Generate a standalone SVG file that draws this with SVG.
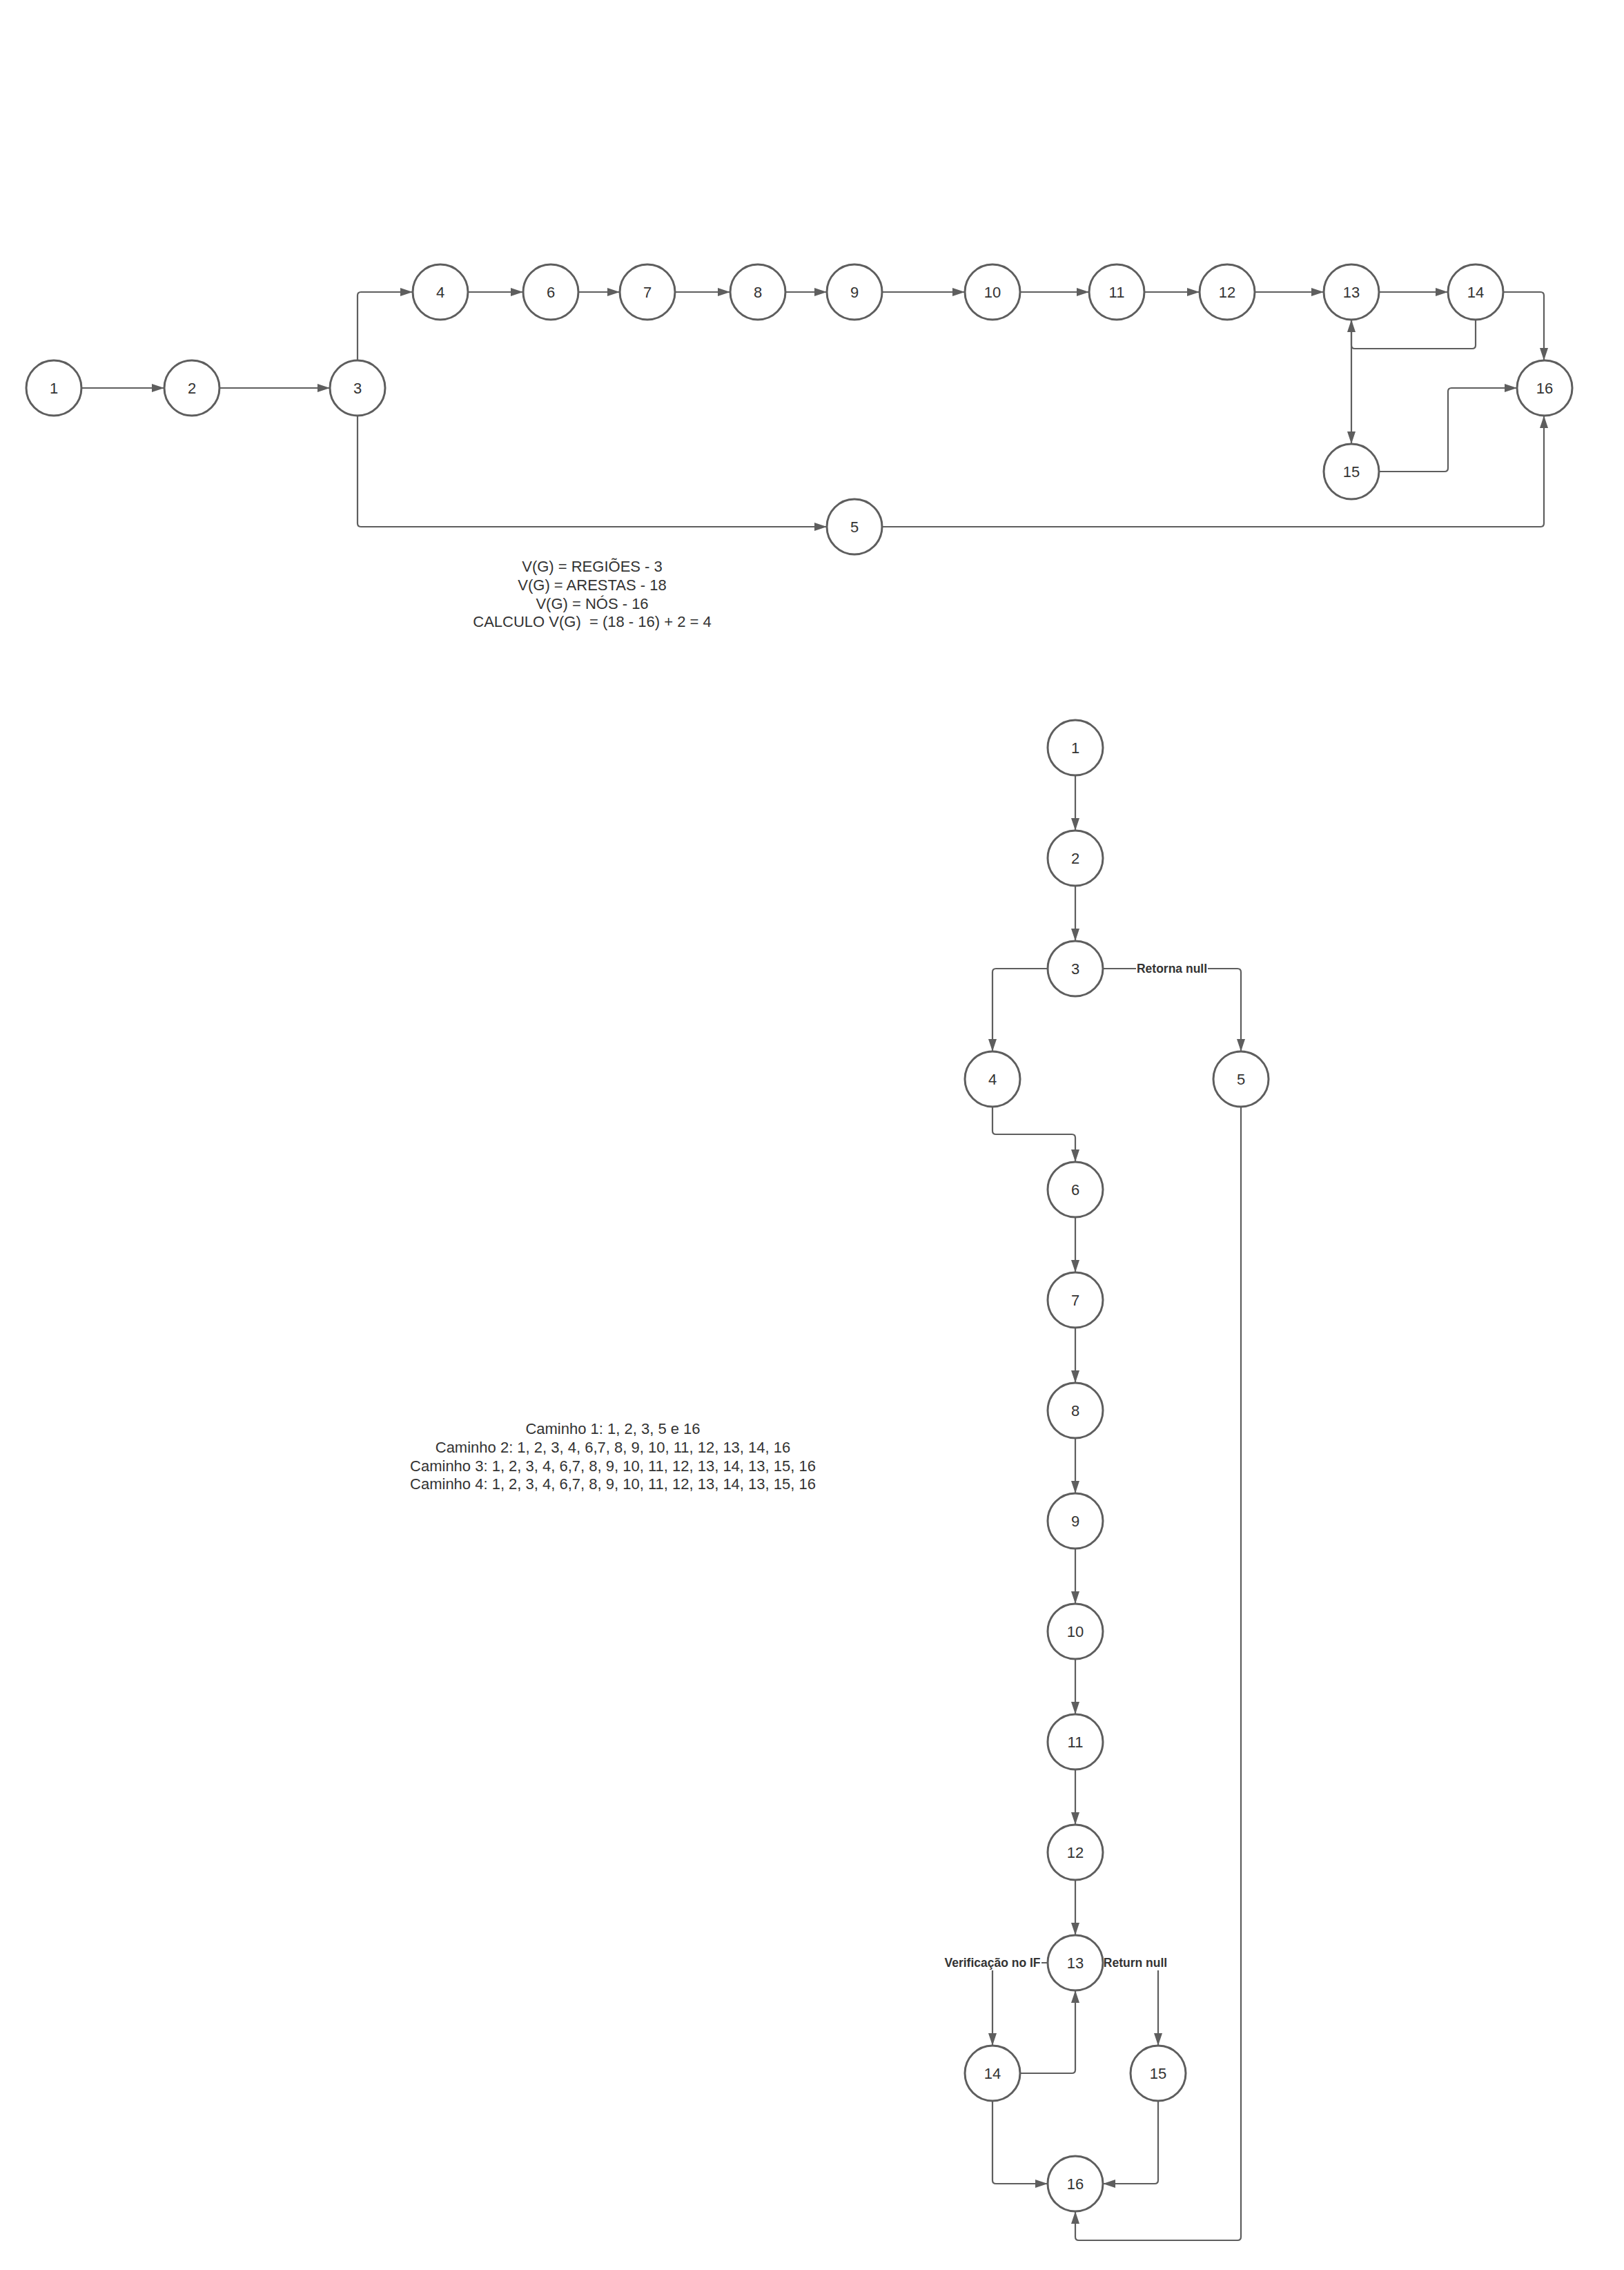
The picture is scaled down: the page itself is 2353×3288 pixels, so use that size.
<svg xmlns="http://www.w3.org/2000/svg" width="2353" height="3288" viewBox="0 0 2353 3288">
  <style>
    .node circle { fill: #ffffff; stroke: #5e5e5e; stroke-width: 3; }
    .node text { font-family: "Liberation Sans", Arial, sans-serif; font-size: 22px; fill: #333333; text-anchor: middle; }
    .edge { fill: none; stroke: #5e5e5e; stroke-width: 2.2; marker-end: url(#arrow); }
    .plain { fill: none; stroke: #5e5e5e; stroke-width: 2.2; }
    .lbl-bg { fill: #ffffff; }
    .lbl { font-family: "Liberation Sans", Arial, sans-serif; font-size: 17.5px; font-weight: bold; fill: #333333; text-anchor: middle; }
    .note { font-family: "Liberation Sans", Arial, sans-serif; font-size: 22px; fill: #333333; text-anchor: middle; white-space: pre; }
  </style>
  <defs>
    <marker id="arrow" markerUnits="userSpaceOnUse" markerWidth="20" markerHeight="14" refX="18" refY="6" orient="auto">
      <path d="M0,0 L18,6 L0,12 Z" fill="#5e5e5e"/>
    </marker>
  </defs>
  <rect width="2353" height="3288" fill="#ffffff"/>

  <!-- Upper graph: connectors -->
  <g id="top-connectors">
    <path class="edge" d="M118,562 H238"/>
    <path class="edge" d="M318,562 H478"/>
    <path class="edge" d="M518,522 V428 Q518,423 523,423 H598"/>
    <path class="edge" d="M678,423 H758"/>
    <path class="edge" d="M838,423 H898"/>
    <path class="edge" d="M978,423 H1058"/>
    <path class="edge" d="M1138,423 H1198"/>
    <path class="edge" d="M1278,423 H1398"/>
    <path class="edge" d="M1478,423 H1578"/>
    <path class="edge" d="M1658,423 H1738"/>
    <path class="edge" d="M1818,423 H1918"/>
    <path class="edge" d="M1998,423 H2098"/>
    <path class="edge" d="M2178,423 H2232 Q2237,423 2237,428 V522"/>
    <path class="edge" d="M2138,463 V500 Q2138,505 2133,505 H1963 Q1958,505 1958,500 V463"/>
    <path class="edge" d="M1958,463 V643"/>
    <path class="edge" d="M1998,683 H2093 Q2098,683 2098,678 V567 Q2098,562 2103,562 H2198"/>
    <path class="edge" d="M1278,763 H2232 Q2237,763 2237,758 V602"/>
    <path class="edge" d="M518,602 V758 Q518,763 523,763 H1198"/>
  </g>

  <!-- Upper graph: nodes -->
  <g id="t1" class="node"><circle cx="78" cy="562" r="40"/><text x="78" y="570">1</text></g>
  <g id="t2" class="node"><circle cx="278" cy="562" r="40"/><text x="278" y="570">2</text></g>
  <g id="t3" class="node"><circle cx="518" cy="562" r="40"/><text x="518" y="570">3</text></g>
  <g id="t4" class="node"><circle cx="638" cy="423" r="40"/><text x="638" y="431">4</text></g>
  <g id="t6" class="node"><circle cx="798" cy="423" r="40"/><text x="798" y="431">6</text></g>
  <g id="t7" class="node"><circle cx="938" cy="423" r="40"/><text x="938" y="431">7</text></g>
  <g id="t8" class="node"><circle cx="1098" cy="423" r="40"/><text x="1098" y="431">8</text></g>
  <g id="t9" class="node"><circle cx="1238" cy="423" r="40"/><text x="1238" y="431">9</text></g>
  <g id="t10" class="node"><circle cx="1438" cy="423" r="40"/><text x="1438" y="431">10</text></g>
  <g id="t11" class="node"><circle cx="1618" cy="423" r="40"/><text x="1618" y="431">11</text></g>
  <g id="t12" class="node"><circle cx="1778" cy="423" r="40"/><text x="1778" y="431">12</text></g>
  <g id="t13" class="node"><circle cx="1958" cy="423" r="40"/><text x="1958" y="431">13</text></g>
  <g id="t14" class="node"><circle cx="2138" cy="423" r="40"/><text x="2138" y="431">14</text></g>
  <g id="t16" class="node"><circle cx="2238" cy="562" r="40"/><text x="2238" y="570">16</text></g>
  <g id="t15" class="node"><circle cx="1958" cy="683" r="40"/><text x="1958" y="691">15</text></g>
  <g id="t5" class="node"><circle cx="1238" cy="763" r="40"/><text x="1238" y="771">5</text></g>

  <!-- Complexity notes -->
  <g id="complexity">
    <text class="note" x="858" y="828">V(G) = REGIÕES - 3</text>
    <text class="note" x="858" y="855">V(G) = ARESTAS - 18</text>
    <text class="note" x="858" y="882">V(G) = NÓS - 16</text>
    <text class="note" x="858" y="908">CALCULO V(G)  = (18 - 16) + 2 = 4</text>
  </g>

  <!-- Independent paths -->
  <g id="paths">
    <text class="note" x="888" y="2077">Caminho 1: 1, 2, 3, 5 e 16</text>
    <text class="note" x="888" y="2104">Caminho 2: 1, 2, 3, 4, 6,7, 8, 9, 10, 11, 12, 13, 14, 16</text>
    <text class="note" x="888" y="2131">Caminho 3: 1, 2, 3, 4, 6,7, 8, 9, 10, 11, 12, 13, 14, 13, 15, 16</text>
    <text class="note" x="888" y="2157">Caminho 4: 1, 2, 3, 4, 6,7, 8, 9, 10, 11, 12, 13, 14, 13, 15, 16</text>
  </g>

  <!-- Lower graph: connectors -->
  <g id="bottom-connectors">
    <path class="edge" d="M1558,1123 V1203"/>
    <path class="edge" d="M1558,1283 V1363"/>
    <path class="edge" d="M1518,1403 H1443 Q1438,1403 1438,1408 V1523"/>
    <path class="edge" d="M1598,1403 H1793 Q1798,1403 1798,1408 V1523"/>
    <path class="edge" d="M1438,1603 V1638 Q1438,1643 1443,1643 H1553 Q1558,1643 1558,1648 V1683"/>
    <path class="edge" d="M1558,1763 V1843"/>
    <path class="edge" d="M1558,1923 V2003"/>
    <path class="edge" d="M1558,2083 V2163"/>
    <path class="edge" d="M1558,2243 V2323"/>
    <path class="edge" d="M1558,2403 V2483"/>
    <path class="edge" d="M1558,2563 V2643"/>
    <path class="edge" d="M1558,2723 V2803"/>
    <path class="edge" d="M1518,2843 H1443 Q1438,2843 1438,2848 V2963"/>
    <path class="edge" d="M1598,2843 H1673 Q1678,2843 1678,2848 V2963"/>
    <path class="edge" d="M1478,3003 H1553 Q1558,3003 1558,2998 V2883"/>
    <path class="edge" d="M1438,3043 V3158 Q1438,3163 1443,3163 H1518"/>
    <path class="edge" d="M1678,3043 V3158 Q1678,3163 1673,3163 H1598"/>
    <path class="edge" d="M1798,1603 V3240 Q1798,3245 1793,3245 H1563 Q1558,3245 1558,3240 V3203"/>
    <!-- edge labels -->
    <rect class="lbl-bg" x="1646" y="1392" width="104" height="22"/>
    <text class="lbl" x="1698" y="1409">Retorna null</text>
    <rect class="lbl-bg" x="1367" y="2832" width="142" height="22"/>
    <text class="lbl" x="1438" y="2849">Verificação no IF</text>
    <rect class="lbl-bg" x="1598" y="2832" width="95" height="22"/>
    <text class="lbl" x="1645" y="2849">Return null</text>
  </g>

  <!-- Lower graph: nodes -->
  <g id="b1" class="node"><circle cx="1558" cy="1083" r="40"/><text x="1558" y="1091">1</text></g>
  <g id="b2" class="node"><circle cx="1558" cy="1243" r="40"/><text x="1558" y="1251">2</text></g>
  <g id="b3" class="node"><circle cx="1558" cy="1403" r="40"/><text x="1558" y="1411">3</text></g>
  <g id="b4" class="node"><circle cx="1438" cy="1563" r="40"/><text x="1438" y="1571">4</text></g>
  <g id="b5" class="node"><circle cx="1798" cy="1563" r="40"/><text x="1798" y="1571">5</text></g>
  <g id="b6" class="node"><circle cx="1558" cy="1723" r="40"/><text x="1558" y="1731">6</text></g>
  <g id="b7" class="node"><circle cx="1558" cy="1883" r="40"/><text x="1558" y="1891">7</text></g>
  <g id="b8" class="node"><circle cx="1558" cy="2043" r="40"/><text x="1558" y="2051">8</text></g>
  <g id="b9" class="node"><circle cx="1558" cy="2203" r="40"/><text x="1558" y="2211">9</text></g>
  <g id="b10" class="node"><circle cx="1558" cy="2363" r="40"/><text x="1558" y="2371">10</text></g>
  <g id="b11" class="node"><circle cx="1558" cy="2523" r="40"/><text x="1558" y="2531">11</text></g>
  <g id="b12" class="node"><circle cx="1558" cy="2683" r="40"/><text x="1558" y="2691">12</text></g>
  <g id="b13" class="node"><circle cx="1558" cy="2843" r="40"/><text x="1558" y="2851">13</text></g>
  <g id="b14" class="node"><circle cx="1438" cy="3003" r="40"/><text x="1438" y="3011">14</text></g>
  <g id="b15" class="node"><circle cx="1678" cy="3003" r="40"/><text x="1678" y="3011">15</text></g>
  <g id="b16" class="node"><circle cx="1558" cy="3163" r="40"/><text x="1558" y="3171">16</text></g>
</svg>
